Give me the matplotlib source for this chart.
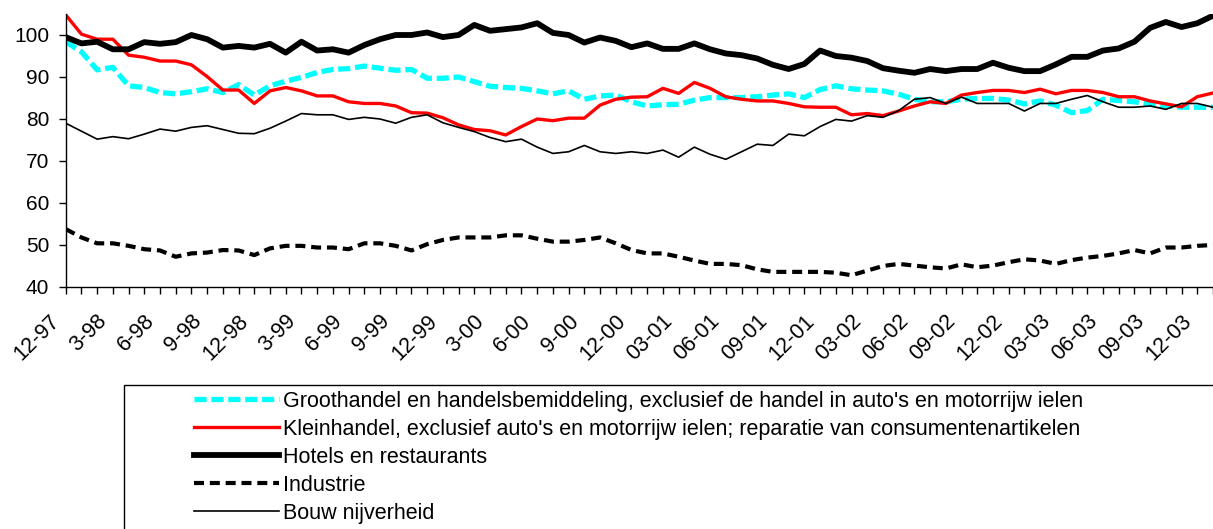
import matplotlib
matplotlib.use("Agg")
import matplotlib.pyplot as plt
import matplotlib.transforms as mtransforms
from matplotlib.patches import Rectangle
import numpy as np

plt.rcParams["font.family"] = ["Liberation Sans", "DejaVu Sans"]

# ── data (monthly, 12-97 … 01-04) ─────────────────────────────────────────
tick_labels = ["12-97", "3-98", "6-98", "9-98", "12-98", "3-99", "6-99", "9-99",
               "12-99", "3-00", "6-00", "9-00", "12-00", "03-01", "06-01",
               "09-01", "12-01", "03-02", "06-02", "09-02", "12-02", "03-03",
               "06-03", "09-03", "12-03"]

groothandel = [98.4, 96.0, 91.7, 92.3, 87.9, 87.5, 86.3, 86.0, 86.5, 87.2,
               86.3, 88.2, 85.7, 87.9, 89.0, 89.9, 91.1, 91.8, 92.0, 92.6,
               92.1, 91.6, 91.8, 89.7, 89.7, 90.0, 88.9, 87.8, 87.5, 87.3,
               86.7, 86.0, 86.7, 84.7, 85.5, 85.7, 84.1, 83.1, 83.4, 83.5,
               84.5, 85.1, 85.1, 85.1, 85.3, 85.7, 86.0, 85.1, 87.0, 87.9,
               87.2, 86.9, 86.7, 85.9, 84.7, 84.1, 84.1, 84.7, 84.9, 84.9,
               84.5, 83.6, 84.3, 83.3, 81.5, 82.0, 84.7, 84.4, 84.1, 83.6,
               83.1, 82.8, 82.8, 82.8]

kleinhandel = [104.8, 100.2, 99.0, 99.0, 95.2, 94.7, 93.8, 93.8, 92.9, 90.1,
               86.9, 86.9, 83.7, 86.7, 87.5, 86.7, 85.5, 85.5, 84.1, 83.7,
               83.7, 83.1, 81.5, 81.4, 80.3, 78.6, 77.5, 77.2, 76.2, 78.2,
               80.0, 79.6, 80.2, 80.2, 83.3, 84.7, 85.2, 85.3, 87.3, 86.1,
               88.7, 87.3, 85.3, 84.7, 84.3, 84.3, 83.7, 82.9, 82.8, 82.8,
               81.0, 81.3, 80.8, 81.9, 83.1, 84.1, 83.7, 85.7, 86.3, 86.8,
               86.8, 86.3, 87.1, 86.0, 86.8, 86.8, 86.3, 85.3, 85.3, 84.3,
               83.6, 82.9, 85.3, 86.2]

hotels = [99.5, 98.0, 98.4, 96.6, 96.6, 98.3, 97.9, 98.3, 100.0, 99.0,
          97.0, 97.4, 97.0, 97.9, 95.8, 98.4, 96.3, 96.6, 95.8, 97.6,
          99.0, 100.0, 100.0, 100.6, 99.5, 100.0, 102.4, 101.0, 101.4, 101.8,
          102.8, 100.5, 100.0, 98.2, 99.4, 98.6, 97.1, 98.0, 96.7, 96.7,
          98.0, 96.6, 95.6, 95.2, 94.4, 92.9, 91.9, 93.1, 96.3, 95.0,
          94.6, 93.8, 92.1, 91.5, 91.0, 91.9, 91.4, 91.9, 91.9, 93.4,
          92.2, 91.4, 91.4, 93.0, 94.8, 94.8, 96.3, 96.8, 98.4, 101.7,
          103.1, 101.9, 102.8, 104.6]

industrie = [53.8, 51.8, 50.4, 50.4, 49.8, 49.0, 48.7, 47.2, 48.0, 48.2,
             48.8, 48.7, 47.6, 49.2, 49.8, 49.8, 49.4, 49.4, 49.0, 50.4,
             50.4, 49.8, 48.7, 50.2, 51.2, 51.8, 51.8, 51.8, 52.3, 52.3,
             51.5, 50.8, 50.8, 51.2, 51.8, 50.4, 48.8, 48.0, 48.0, 47.2,
             46.3, 45.5, 45.5, 45.2, 44.2, 43.6, 43.6, 43.6, 43.6, 43.4,
             42.8, 43.9, 45.0, 45.5, 45.1, 44.7, 44.4, 45.4, 44.7, 45.1,
             45.9, 46.6, 46.3, 45.5, 46.4, 47.0, 47.4, 48.0, 48.8, 48.0,
             49.4, 49.4, 49.8, 50.0]

bouw = [79.0, 77.1, 75.2, 75.8, 75.3, 76.4, 77.6, 77.1, 78.0, 78.4,
        77.5, 76.6, 76.5, 77.8, 79.5, 81.3, 81.0, 81.0, 79.9, 80.4,
        80.0, 79.0, 80.4, 81.0, 79.1, 78.0, 77.0, 75.6, 74.6, 75.2,
        73.3, 71.8, 72.2, 73.7, 72.2, 71.8, 72.2, 71.8, 72.6, 70.9,
        73.3, 71.6, 70.4, 72.2, 74.0, 73.7, 76.4, 76.0, 78.2, 79.9,
        79.5, 80.8, 80.4, 82.0, 84.7, 85.1, 83.7, 85.2, 83.7, 83.7,
        83.7, 81.9, 83.7, 83.7, 84.7, 85.6, 84.1, 82.8, 82.8, 83.1,
        82.3, 83.7, 83.7, 82.8]

names = ["Groothandel en handelsbemiddeling, exclusief de handel in auto's en motorrijw ielen",
         "Kleinhandel, exclusief auto's en motorrijw ielen; reparatie van consumentenartikelen",
         "Hotels en restaurants",
         "Industrie",
         "Bouw nijverheid"]


def main() -> None:
    fig = plt.figure(figsize=(12.13, 5.29), dpi=100)
    ax = fig.add_axes([65.7 / 1213, 242 / 529, 1 - 65.7 / 1213, 273 / 529])

    months = np.arange(len(hotels))

    ax.plot(months, groothandel, color="#00FFFF", lw=3.8, dashes=(2.3, 0.9),
            label=names[0])
    ax.plot(months, kleinhandel, color="#FF0000", lw=2.4, label=names[1])
    ax.plot(months, hotels, color="black", lw=4.2, solid_joinstyle="round",
            label=names[2])
    ax.plot(months, industrie, color="black", lw=3.0, dashes=(2.4, 1.4),
            label=names[3])
    ax.plot(months, bouw, color="black", lw=1.2, label=names[4])

    ax.set_xlim(0, (1213 - 65.7) / 15.79)
    ax.set_ylim(40, 105)
    ax.set_yticks(np.arange(40, 101, 10))
    label_pos = np.arange(0, 73, 3)
    ax.set_xticks(label_pos)
    ax.set_xticks(np.arange(0, 74), minor=True)
    ax.set_xticklabels([])

    # Excel-style rotated labels: a bit left of and below their tick
    offset = mtransforms.ScaledTranslation(-0.09, -0.31, fig.dpi_scale_trans)
    for pos, lab in zip(label_pos, tick_labels):
        ax.text(pos, 0, lab, transform=ax.get_xaxis_transform() + offset,
                rotation=45, ha="right", va="center", rotation_mode="anchor",
                fontsize=15.5, clip_on=False)

    ax.tick_params(axis="both", which="both", direction="out", length=5,
                   width=1, color="black")
    ax.tick_params(axis="y", labelsize=15, pad=7)
    for side in ("top", "right"):
        ax.spines[side].set_visible(False)
    for side in ("left", "bottom"):
        ax.spines[side].set_linewidth(1)

    # legend box
    fig.patches.append(Rectangle((124 / 1213, -0.1), 1.0, 0.1 + (529 - 385) / 529,
                                 transform=fig.transFigure, fill=False,
                                 edgecolor="black", lw=1))
    handles, labels = ax.get_legend_handles_labels()
    fig.legend(handles, labels, loc="upper left",
               bbox_to_anchor=(194 / 1213, 1 - 391 / 529),
               frameon=False, fontsize=15.5, handlelength=3.95,
               handletextpad=0.2, labelspacing=0.32, borderpad=0,
               borderaxespad=0)

    fig.savefig("out.png", dpi=100)
    plt.close(fig)


if __name__ == "__main__":
    main()
